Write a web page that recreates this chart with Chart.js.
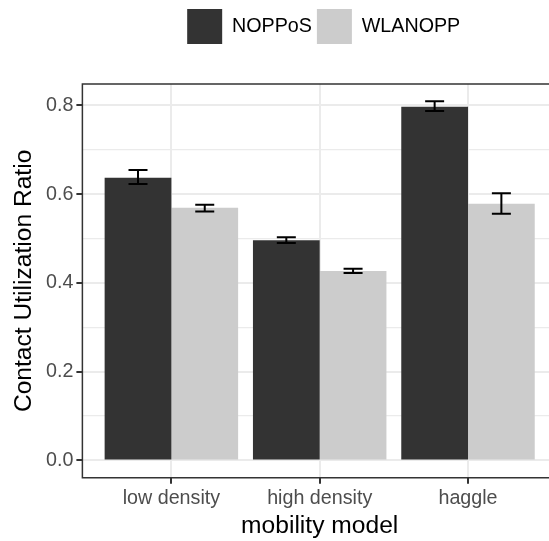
<!DOCTYPE html>
<html lang="en">
<head>
  <meta charset="UTF-8" />
  <title>Contact Utilization Ratio by mobility model</title>
  <script src="https://cdn.jsdelivr.net/npm/chart.js"></script>
  <style>
    html, body { margin: 0; padding: 0; background: #fff; overflow: hidden; }
    .wrap { width: 557px; height: 541px; position: relative; }
  </style>
</head>
<body>
<div class="wrap"><canvas id="chart"></canvas></div>

<script>
// data
const categories = ["low density", "high density", "haggle"];
const seriesNames = ["NOPPoS", "WLANOPP"];
const nopposMean = [0.637, 0.496, 0.797];
const nopposLow  = [0.623, 0.490, 0.787];
const nopposHigh = [0.654, 0.503, 0.809];
const wlanMean = [0.569, 0.427, 0.578];
const wlanLow  = [0.561, 0.422, 0.556];
const wlanHigh = [0.576, 0.432, 0.602];
const yMajor = [0, 0.2, 0.4, 0.6, 0.8];
const yMinor = [0.1, 0.3, 0.5, 0.7];

const errLow = [nopposLow, wlanLow];
const errHigh = [nopposHigh, wlanHigh];

const font = "'Liberation Sans', Arial, Helvetica, sans-serif";

// error bars drawn with the chart's own scales
const errorBars = {
  id: 'errorBars',
  afterDatasetsDraw(chart) {
    const ctx = chart.ctx, y = chart.scales.y;
    ctx.save();
    ctx.strokeStyle = '#000';
    ctx.lineWidth = 2;
    chart.data.datasets.forEach((ds, d) => {
      const meta = chart.getDatasetMeta(d);
      meta.data.forEach((bar, i) => {
        const x = bar.x, half = 9.5;
        const top = y.getPixelForValue(errHigh[d][i]);
        const bot = y.getPixelForValue(errLow[d][i]);
        ctx.beginPath();
        ctx.moveTo(x, top); ctx.lineTo(x, bot);
        ctx.moveTo(x - half, top); ctx.lineTo(x + half, top);
        ctx.moveTo(x - half, bot); ctx.lineTo(x + half, bot);
        ctx.stroke();
      });
    });
    ctx.restore();
  }
};

// panel border like theme_bw
const panelBorder = {
  id: 'panelBorder',
  afterDatasetsDraw(chart) {
    const a = chart.chartArea, ctx = chart.ctx;
    ctx.save();
    ctx.strokeStyle = '#333';
    ctx.lineWidth = 1.5;
    ctx.strokeRect(a.left, a.top, a.right - a.left, a.bottom - a.top);
    ctx.restore();
  }
};

// extra gap under the legend, and nudge it a little right
const legendGap = {
  id: 'legendGap',
  beforeInit(chart) {
    const fit = chart.legend.fit;
    chart.legend.fit = function () {
      fit.bind(chart.legend)();
      this.height += 30;
    };
  },
  afterLayout(chart) {
    chart.legend.left += 4;
    chart.legend.right += 4;
  }
};

new Chart(document.getElementById('chart'), {
  type: 'bar',
  data: {
    datasets: [
      {
        label: seriesNames[0],
        data: nopposMean.map((v, i) => ({ x: i, y: v })),
        backgroundColor: '#333333'
      },
      {
        label: seriesNames[1],
        data: wlanMean.map((v, i) => ({ x: i, y: v })),
        backgroundColor: '#cccccc'
      }
    ]
  },
  options: {
    responsive: true,
    maintainAspectRatio: false,
    animation: false,
    categoryPercentage: 0.9,
    barPercentage: 1,
    layout: { padding: { top: 4, left: 9.5, right: 0, bottom: 0 } },
    plugins: {
      legend: {
        position: 'top',
        fullSize: false,
        labels: {
          boxWidth: 35, boxHeight: 35, padding: 5,
          color: '#000',
          font: { family: font, size: 19.7 }
        }
      },
      tooltip: { enabled: false }
    },
    scales: {
      x: {
        type: 'linear',
        offset: false,
        min: -0.6, max: 2.6,
        afterBuildTicks: s => { s.ticks = categories.map((c, i) => ({ value: i })); },
        ticks: {
          callback: v => categories[v],
          color: '#4d4d4d',
          padding: 3,
          maxRotation: 0,
          font: { family: font, size: 19.7 }
        },
        grid: { offset: false, color: '#ebebeb', lineWidth: 2, tickColor: '#333', tickWidth: 2, tickLength: 6 },
        border: { display: false },
        title: {
          display: true, text: 'mobility model', color: '#000',
          font: { family: font, size: 24.6, lineHeight: 1 }, padding: { top: 1, bottom: 2 }
        }
      },
      y: {
        min: -0.039, max: 0.848,
        afterBuildTicks: s => {
          s.ticks = yMajor.map(v => ({ value: v, major: true }))
            .concat(yMinor.map(v => ({ value: v, major: false })))
            .sort((a, b) => a.value - b.value);
        },
        ticks: {
          callback: (v, i, t) => (t[i].major ? v.toFixed(1) : ''),
          color: '#4d4d4d',
          padding: 3,
          font: { family: font, size: 19.7 }
        },
        grid: {
          color: '#ebebeb',
          lineWidth: c => (c.tick && c.tick.major ? 2 : 1.2),
          tickColor: '#333',
          tickWidth: c => (c.tick && c.tick.major ? 2 : 0),
          tickLength: 6
        },
        border: { display: false },
        title: {
          display: true, text: 'Contact Utilization Ratio', color: '#000',
          font: { family: font, size: 24.6 }, padding: { top: 0, bottom: 4 }
        }
      }
    }
  },
  plugins: [legendGap, errorBars, panelBorder]
});
</script>
</body>
</html>
